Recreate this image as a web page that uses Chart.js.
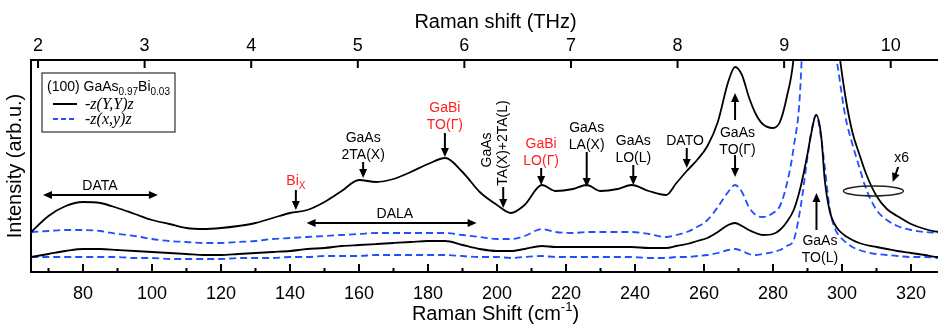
<!DOCTYPE html>
<html lang="en">
<head>
<meta charset="UTF-8">
<script src="https://cdn.jsdelivr.net/npm/chart.js@4.4.0/dist/chart.umd.min.js"></script>
<title>Raman GaAsBi</title>
<style>
  html, body { margin: 0; padding: 0; background: #fff; overflow: hidden; }
  #wrap { width: 960px; height: 324px; }
</style>
</head>
<body>
<div id="wrap"><canvas id="myChart" width="960" height="324"></canvas></div>
<script>
// Raman shift (cm-1), shared by all four spectra
var shift = [65, 70, 75, 80, 85, 90, 95, 100, 105, 110, 115, 120, 125, 130, 135, 140, 145, 150, 155, 160,
  165, 170, 175, 180, 185, 190, 195, 200, 204, 208, 213, 217, 222, 226, 230, 235, 239, 244, 249, 252,
  255, 258, 261, 264, 267, 269, 271, 273, 275, 277, 280, 282, 284, 286, 288, 290, 291, 292.5, 294, 295,
  296.5, 298, 299, 301, 303, 305, 307, 310, 313, 316, 320, 324, 328, 331, 334];

// -z(Y,Y)z, scaled x6 (upper solid)
var parX6 = [40, 56, 66, 70, 69, 64, 58, 52, 48, 44, 43, 44, 46, 49, 54, 59, 62, 70, 81, 92,
  90, 93, 100, 108, 114, 100, 80, 67, 59, 67, 87, 81, 83, 87, 81, 83, 87, 81, 77, 89,
  101, 112, 126, 150, 190, 205, 197, 175, 158, 148, 144, 150, 175, 215, 320, 500, 650, 800, 650, 500,
  360, 260, 225, 175, 140, 118, 98, 76, 63, 56, 48, 43, 40, 39, 38];

// -z(x,y)z, scaled x6 (upper dashed)
var crossX6 = [40, 41, 42, 42, 41, 38, 36, 33, 31, 30, 29, 29, 30, 31, 33, 34, 35, 36, 37, 38,
  39, 39, 39, 39, 39, 37, 35, 33, 33, 36, 43, 40, 39, 40, 40, 40, 40, 38, 35, 37,
  40, 45, 52, 65, 80, 87, 80, 65, 57, 55, 59, 66, 88, 125, 190, 400, 600, 750, 600, 450,
  300, 225, 200, 155, 128, 105, 83, 62, 52, 46, 42, 40, 39, 38, 37];

// -z(Y,Y)z, x1 (lower solid)
var par = [15, 18, 21, 23, 23, 22, 21, 20, 19, 18, 17, 17, 18, 19, 20, 21, 23, 24, 26, 27,
  28, 29, 30, 31, 31, 27, 23, 21, 21, 23, 26, 25, 25, 25, 25, 25, 25, 24, 24, 26,
  28, 31, 34, 40, 47, 49, 46, 42, 39, 37, 38, 42, 50, 62, 85, 118, 137, 157, 135, 92,
  60, 47, 42, 36, 32, 29, 27, 25, 23, 21, 19, 17, 15, 15, 14];

// -z(x,y)z, x1 (lower dashed)
var cross = [15, 15, 15, 15, 15, 15, 14, 14, 13, 13, 13, 13, 14, 14, 14, 15, 15, 16, 16, 16,
  17, 17, 17, 17, 17, 16, 15, 15, 14, 15, 16, 15, 15, 15, 15, 15, 15, 14, 14, 15,
  15, 16, 17, 19, 22, 23, 21, 18, 17, 18, 20, 22, 26, 32, 65, 115, 138, 157, 133, 105,
  62, 43, 37, 30, 25, 22, 20, 18, 17, 16, 15, 15, 14, 14, 14];

var cmTicks = [80, 100, 120, 140, 160, 180, 200, 220, 240, 260, 280, 300, 320];
var thzTicks = [2, 3, 4, 5, 6, 7, 8, 9, 10];

var RED = '#ff2020';
var BLUE = '#1f4fff';
var SANS = "'Liberation Sans', Arial, sans-serif";

// labels on the spectrum: x in cm-1, y in plot units
var notes = [
  { x: 84.9, y: 87, lines: ['DATA'] },
  { x: 170.4, y: 59, lines: ['DALA'] },
  { x: 141.7, y: 92, lines: ['Bi_X'], color: RED },
  { x: 161.2, y: 135, lines: ['GaAs', '2TA(X)'] },
  { x: 184.9, y: 165, lines: ['GaBi', 'TO(\u0393)'], color: RED },
  { x: 212.8, y: 129, lines: ['GaBi', 'LO(\u0393)'], color: RED },
  { x: 226.0, y: 145, lines: ['GaAs', 'LA(X)'] },
  { x: 239.5, y: 132, lines: ['GaAs', 'LO(L)'] },
  { x: 254.5, y: 132, lines: ['DATO'] },
  { x: 269.7, y: 140, lines: ['GaAs', 'TO(\u0393)'] },
  { x: 293.6, y: 32, lines: ['GaAs', 'TO(L)'] },
  { x: 317.3, y: 115, lines: ['x6'] }
];
var turned = [
  { x: 197.0, y: 122, text: 'GaAs' },
  { x: 201.8, y: 129, text: 'TA(X)+2TA(L)' }
];
var arrows = [
  { x: [68.4, 101.7], y: [77, 77], both: true },
  { x: [144.8, 194.1], y: [49, 49], both: true },
  { x: [141.7, 141.7], y: [82, 62] },
  { x: [161.2, 161.2], y: [110, 94] },
  { x: [184.9, 184.9], y: [139, 115] },
  { x: [201.8, 201.8], y: [85, 64] },
  { x: [212.8, 212.8], y: [104, 87] },
  { x: [226.0, 226.0], y: [120, 85] },
  { x: [239.5, 239.5], y: [107, 87] },
  { x: [255.0, 255.0], y: [124, 104] },
  { x: [269.0, 269.0], y: [152, 179] },
  { x: [269.0, 269.0], y: [117, 95] },
  { x: [292.6, 292.6], y: [42, 79] },
  { x: [316.3, 314.7], y: [105, 90] }
];
var ring = { x: 309.1, y: 81 };

function pts(arr) {
  return shift.map(function (v, i) { return { x: v, y: arr[i] }; });
}

function drawHead(ctx, x1, y1, x2, y2) {
  var a = Math.atan2(y2 - y1, x2 - x1), L = 9, W = 4;
  ctx.beginPath();
  ctx.moveTo(x2, y2);
  ctx.lineTo(x2 - L * Math.cos(a) + W * Math.sin(a), y2 - L * Math.sin(a) - W * Math.cos(a));
  ctx.lineTo(x2 - L * Math.cos(a) - W * Math.sin(a), y2 - L * Math.sin(a) + W * Math.cos(a));
  ctx.closePath();
  ctx.fill();
}

function drawLine(ctx, text, cx, baseY, size) {
  // 'Bi_X' -> Bi with subscript X
  var parts = text.split('_');
  ctx.font = size + 'px ' + SANS;
  var w1 = ctx.measureText(parts[0]).width;
  var w2 = 0;
  if (parts[1]) { ctx.font = Math.round(size * 0.72) + 'px ' + SANS; w2 = ctx.measureText(parts[1]).width; }
  var x0 = cx - (w1 + w2) / 2;
  ctx.textAlign = 'left';
  ctx.textBaseline = 'alphabetic';
  ctx.font = size + 'px ' + SANS;
  ctx.fillText(parts[0], x0, baseY);
  if (parts[1]) {
    ctx.font = Math.round(size * 0.72) + 'px ' + SANS;
    ctx.fillText(parts[1], x0 + w1, baseY + 4);
  }
}

var extras = {
  id: 'extras',
  afterDraw: function (chart) {
    var ctx = chart.ctx, a = chart.chartArea;
    var x = chart.scales.x, y = chart.scales.y, x2 = chart.scales.x2;
    ctx.save();
    ctx.strokeStyle = '#000';
    ctx.fillStyle = '#000';
    ctx.lineWidth = 2;

    // inward ticks
    ctx.beginPath();
    x.ticks.forEach(function (t) {
      var p = x.getPixelForValue(t.value);
      ctx.moveTo(p, a.bottom); ctx.lineTo(p, a.bottom - 8);
      var m = x.getPixelForValue(t.value - 10);
      ctx.moveTo(m, a.bottom); ctx.lineTo(m, a.bottom - 4);
    });
    var last = x.getPixelForValue(cmTicks[cmTicks.length - 1] + 10);
    ctx.moveTo(last, a.bottom); ctx.lineTo(last, a.bottom - 4);
    x2.ticks.forEach(function (t) {
      var p = x2.getPixelForValue(t.value);
      ctx.moveTo(p, a.top); ctx.lineTo(p, a.top + 8);
    });
    ctx.stroke();

    // bottom axis title with superscript
    var cx = (a.left + a.right) / 2;
    ctx.font = '20px ' + SANS;
    var s1 = 'Raman Shift (cm', s2 = '-1', s3 = ')';
    var w1 = ctx.measureText(s1).width, w3 = ctx.measureText(s3).width;
    ctx.font = '13px ' + SANS;
    var w2 = ctx.measureText(s2).width;
    var x0 = cx - (w1 + w2 + w3) / 2;
    ctx.textAlign = 'left';
    ctx.textBaseline = 'alphabetic';
    ctx.font = '20px ' + SANS;
    ctx.fillText(s1, x0, 320);
    ctx.fillText(s3, x0 + w1 + w2, 320);
    ctx.font = '13px ' + SANS;
    ctx.fillText(s2, x0 + w1, 311);

    // annotation texts
    notes.forEach(function (n) {
      ctx.fillStyle = n.color || '#000';
      var px = x.getPixelForValue(n.x), py = y.getPixelForValue(n.y);
      n.lines.forEach(function (l, i) {
        drawLine(ctx, l, px, py + 5 + i * 17, 14);
      });
    });
    ctx.fillStyle = '#000';
    turned.forEach(function (n) {
      ctx.save();
      ctx.translate(x.getPixelForValue(n.x), y.getPixelForValue(n.y));
      ctx.rotate(-Math.PI / 2);
      ctx.font = '14px ' + SANS;
      ctx.textAlign = 'center';
      ctx.textBaseline = 'middle';
      ctx.fillText(n.text, 0, 0);
      ctx.restore();
    });

    // arrows
    ctx.lineWidth = 2;
    arrows.forEach(function (r) {
      var xa = x.getPixelForValue(r.x[0]), ya = y.getPixelForValue(r.y[0]);
      var xb = x.getPixelForValue(r.x[1]), yb = y.getPixelForValue(r.y[1]);
      var ang = Math.atan2(yb - ya, xb - xa);
      ctx.beginPath();
      ctx.moveTo(xa + (r.both ? 6 * Math.cos(ang) : 0), ya + (r.both ? 6 * Math.sin(ang) : 0));
      ctx.lineTo(xb - 6 * Math.cos(ang), yb - 6 * Math.sin(ang));
      ctx.stroke();
      drawHead(ctx, xa, ya, xb, yb);
      if (r.both) drawHead(ctx, xb, yb, xa, ya);
    });

    // x6 ellipse
    ctx.lineWidth = 1.5;
    ctx.strokeStyle = '#222';
    ctx.beginPath();
    ctx.ellipse(x.getPixelForValue(ring.x), y.getPixelForValue(ring.y), 30, 5, 0, 0, 2 * Math.PI);
    ctx.stroke();

    // legend
    var lx = 42, ly = 73, lw = 133, lh = 59;
    ctx.fillStyle = '#fff';
    ctx.fillRect(lx, ly, lw, lh);
    ctx.strokeStyle = '#333';
    ctx.lineWidth = 1.2;
    ctx.strokeRect(lx, ly, lw, lh);
    ctx.fillStyle = '#000';
    var tx = lx + 5;
    var segs = [['(100) GaAs', 14, 0], ['0.97', 10, 4], ['Bi', 14, 0], ['0.03', 10, 4]];
    segs.forEach(function (s) {
      ctx.font = s[1] + 'px ' + SANS;
      ctx.fillText(s[0], tx, 91 + s[2]);
      tx += ctx.measureText(s[0]).width;
    });
    ctx.lineWidth = 2;
    ctx.strokeStyle = '#000';
    ctx.beginPath(); ctx.moveTo(lx + 11, 104); ctx.lineTo(lx + 35, 104); ctx.stroke();
    ctx.strokeStyle = BLUE;
    ctx.setLineDash([5, 3]);
    ctx.beginPath(); ctx.moveTo(lx + 11, 119); ctx.lineTo(lx + 35, 119); ctx.stroke();
    ctx.setLineDash([]);
    ctx.font = "italic 16px 'Liberation Serif', serif";
    ctx.fillText('-z(Y,Y)z', lx + 43, 109);
    ctx.fillText('-z(x,y)z', lx + 43, 124);
    ctx.restore();
  }
};

var ctx = document.getElementById('myChart').getContext('2d');
var chart = new Chart(ctx, {
  type: 'line',
  data: {
    datasets: [
      { label: '-z(Y,Y)z x6', data: pts(parX6), borderColor: '#000', borderWidth: 1.8 },
      { label: '-z(x,y)z x6', data: pts(crossX6), borderColor: BLUE, borderWidth: 1.8, borderDash: [7, 4] },
      { label: '-z(Y,Y)z', data: pts(par), borderColor: '#000', borderWidth: 1.8 },
      { label: '-z(x,y)z', data: pts(cross), borderColor: BLUE, borderWidth: 1.8, borderDash: [7, 4] }
    ]
  },
  options: {
    responsive: false,
    animation: false,
    devicePixelRatio: 1,
    layout: { padding: 0 },
    elements: {
      point: { radius: 0 },
      line: { cubicInterpolationMode: 'monotone', fill: false }
    },
    plugins: { legend: { display: false }, tooltip: { enabled: false } },
    scales: {
      x: {
        type: 'linear', position: 'bottom', min: 64.93, max: 334.2,
        afterBuildTicks: function (s) { s.ticks = cmTicks.map(function (v) { return { value: v }; }); },
        afterFit: function (s) { s.height = 52; },
        grid: { display: false, drawTicks: false },
        border: { display: true, color: '#000', width: 2 },
        ticks: { color: '#000', padding: 11, maxRotation: 0, autoSkip: false, font: { family: SANS, size: 18 } }
      },
      x2: {
        type: 'linear', position: 'top', min: 1.934, max: 10.65,
        afterBuildTicks: function (s) { s.ticks = thzTicks.map(function (v) { return { value: v }; }); },
        afterFit: function (s) { s.height = 60; },
        grid: { display: false, drawTicks: false },
        border: { display: true, color: '#000', width: 2 },
        ticks: { color: '#000', padding: 3, maxRotation: 0, autoSkip: false, font: { family: SANS, size: 18 } },
        title: { display: true, text: 'Raman shift (THz)', color: '#000', padding: { top: 10, bottom: 0 }, font: { family: SANS, size: 20 } }
      },
      y: {
        min: 0, max: 212,
        afterFit: function (s) { s.width = 31; },
        grid: { display: false, drawTicks: false },
        border: { display: true, color: '#000', width: 2 },
        ticks: { display: false },
        title: { display: true, text: 'Intensity (arb.u.)', color: '#000', padding: { top: 3, bottom: 0 }, font: { family: SANS, size: 20 } }
      }
    }
  },
  plugins: [extras]
});
</script>
</body>
</html>
